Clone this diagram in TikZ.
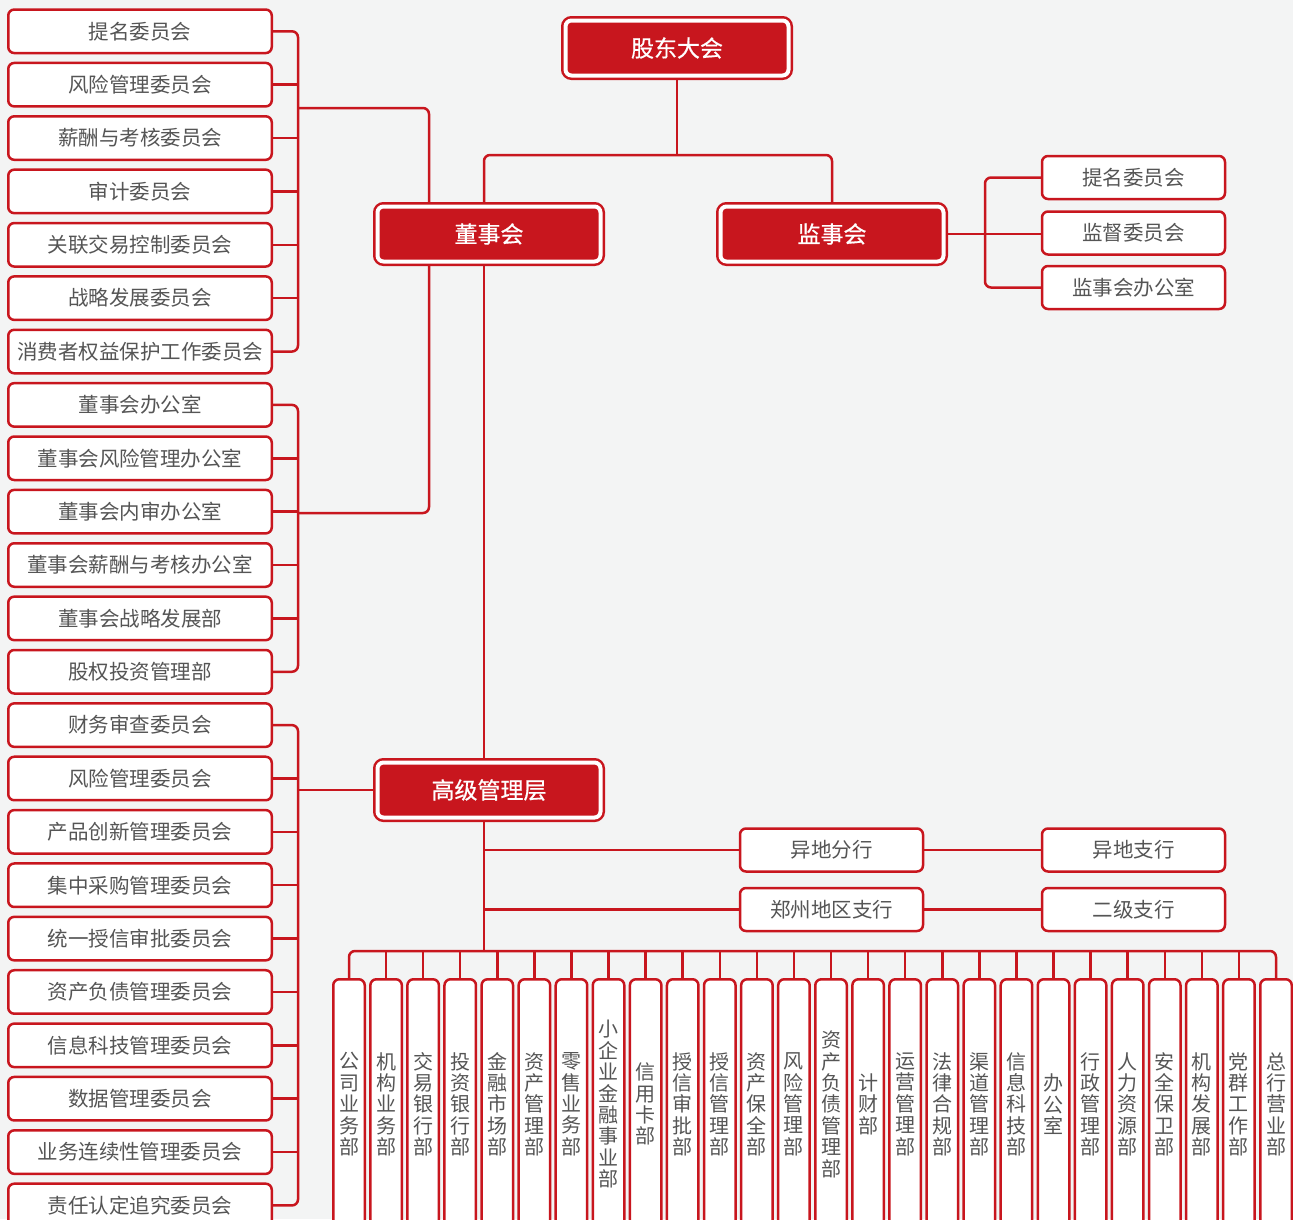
\documentclass[tikz,border=0pt]{standalone}
\usepackage{fontspec}
\setmainfont{Noto Sans CJK SC}
\newfontfamily\titlefont[FakeBold=0.7]{Noto Sans CJK SC}
\definecolor{bank}{HTML}{C8161E}
\definecolor{txt}{HTML}{555555}
\definecolor{bg}{HTML}{F3F4F4}
\newcommand{\tl}[1]{\raisebox{-2.5pt}{#1}}
\begin{document}
\begin{tikzpicture}[x=1pt,y=-1pt,
 conn/.style={draw=bank,line width=2.5pt,rounded corners=6pt},
 sidebox/.style={draw=bank,line width=2.5pt,fill=white,rounded corners=6pt,minimum width=263.5pt,minimum height=43.5pt,inner sep=0pt,text=txt,font=\fontsize{20.5}{22}\selectfont},
 rbox/.style={sidebox,minimum width=183pt,minimum height=43pt},
 dept/.style={draw=bank,line width=2.5pt,fill=white,rounded corners=6pt,minimum width=31.5pt,minimum height=250pt,inner sep=0pt,text=txt,align=center,font=\fontsize{20}{21.4}\selectfont,anchor=north},
 lead/.style={fill=bank,draw=bank,double=white,double distance=4pt,line width=2.5pt,rounded corners=6pt,minimum width=223pt,minimum height=55pt,outer sep=4.5pt,text=white,font=\titlefont\fontsize{23}{26}\selectfont}]
\useasboundingbox (0,0) rectangle (1293,1219);
\fill[bg] (0,0) rectangle (1293,1219);
\clip (0,0) rectangle (1293,1219);

% leading bodies
\node[lead] (gd) at (677,48) {\tl{股东大会}};
\node[lead] (dsh) at (489,234) {\tl{董事会}};
\node[lead] (jsh) at (832,234) {\tl{监事会}};
\node[lead] (gj) at (489,790) {\tl{高级管理层}};

% left column
\foreach \i/\t in {1/提名委员会,2/风险管理委员会,3/薪酬与考核委员会,4/审计委员会,5/关联交易控制委员会,6/战略发展委员会,7/消费者权益保护工作委员会,8/董事会办公室,9/董事会风险管理办公室,10/董事会内审办公室,11/董事会薪酬与考核办公室,12/董事会战略发展部,13/股权投资管理部,14/财务审查委员会,15/风险管理委员会,16/产品创新管理委员会,17/集中采购管理委员会,18/统一授信审批委员会,19/资产负债管理委员会,20/信息科技管理委员会,21/数据管理委员会,22/业务连续性管理委员会,23/责任认定追究委员会}
  \node[sidebox] (L\i) at (140,{31.3+53.37*(\i-1)}) {\t};

% supervisory committees
\node[rbox] (jd1) at (1133.5,177.5) {提名委员会};
\node[rbox] (jd2) at (1133.5,233) {监督委员会};
\node[rbox] (jd3) at (1133.5,287.5) {监事会办公室};

% branches
\node[rbox] (yd) at (831.5,850) {异地分行};
\node[rbox] (zz) at (831.5,909.5) {郑州地区支行};
\node[rbox] (yz) at (1133.5,850) {异地支行};
\node[rbox] (ej) at (1133.5,909.5) {二级支行};

% departments
\foreach \i/\t in {1/公\\司\\业\\务\\部,2/机\\构\\业\\务\\部,3/交\\易\\银\\行\\部,4/投\\资\\银\\行\\部,5/金\\融\\市\\场\\部,6/资\\产\\管\\理\\部,7/零\\售\\业\\务\\部,8/小\\企\\业\\金\\融\\事\\业\\部,9/信\\用\\卡\\部,10/授\\信\\审\\批\\部,11/授\\信\\管\\理\\部,12/资\\产\\保\\全\\部,13/风\\险\\管\\理\\部,14/资\\产\\负\\债\\管\\理\\部,15/计\\财\\部,16/运\\营\\管\\理\\部,17/法\\律\\合\\规\\部,18/渠\\道\\管\\理\\部,19/信\\息\\科\\技\\部,20/办\\公\\室,21/行\\政\\管\\理\\部,22/人\\力\\资\\源\\部,23/安\\全\\保\\卫\\部,24/机\\构\\发\\展\\部,25/党\\群\\工\\作\\部,26/总\\行\\营\\业\\部}
  \node[dept] (B\i) at ({349+37.08*(\i-1)},978) {\t};

% coordinates
\coordinate (bx) at (298,0);
\coordinate (rb) at (985,0);
\coordinate (m1) at (677,155);
\coordinate (j1) at (298,108);
\coordinate (j2) at (298,513);
\coordinate (bus) at (484,951);

% top tree
\draw[conn] (gd.south) -- (m1);
\draw[conn] ([xshift=-5pt]dsh.north) |- (m1) -| (jsh.north);
\draw[conn] ([xshift=-5pt]dsh.south) -- ([xshift=-5pt]gj.north);

% group 1
\draw[conn] (L1.east) -| (bx |- L7.east) -- (L7.east);
\foreach \i in {2,...,6} \draw[conn] (L\i.east) -- (bx |- L\i.east);
\draw[conn] (j1) -| ([xshift=-60pt]dsh.north);
% group 2
\draw[conn] (L8.east) -| (bx |- L13.east) -- (L13.east);
\foreach \i in {9,...,12} \draw[conn] (L\i.east) -- (bx |- L\i.east);
\draw[conn] (j2) -| ([xshift=-60pt]dsh.south);
% group 3
\draw[conn] (L14.east) -| (bx |- L23.east) -- (L23.east);
\foreach \i in {15,...,22} \draw[conn] (L\i.east) -- (bx |- L\i.east);
\draw[conn] (bx |- gj.west) -- (gj.west);

% supervisory board
\draw[conn] (jd1.west) -| (rb |- jd3.west) -- (jd3.west);
\draw[conn] (jsh.east) -- (jsh.east -| jd2.west);

% senior management
\draw[conn] ([xshift=-5pt]gj.south) -- (bus);
\draw[conn] (yd.west -| bus) -- (yd.west);
\draw[conn] (zz.west -| bus) -- (zz.west);
\draw[conn] (yd.east) -- (yz.west);
\draw[conn] (zz.east) -- (ej.west);
\draw[conn] (B1.north) |- (bus) -| (B26.north);
\foreach \i in {2,...,25} \draw[conn] (B\i.north) -- (B\i.north |- bus);
\end{tikzpicture}
\end{document}
